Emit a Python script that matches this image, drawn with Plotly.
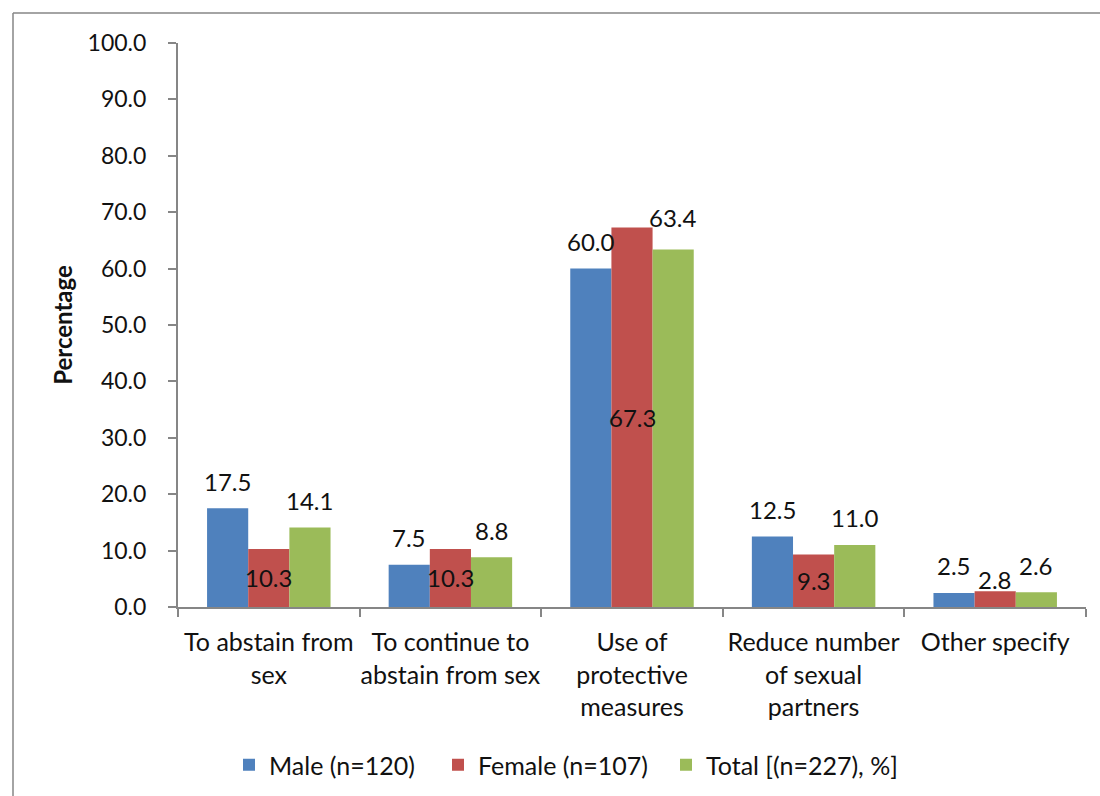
import plotly.graph_objects as go

# ---- data ----
categories = [
    "To abstain from<br>sex",
    "To continue to<br>abstain from sex",
    "Use of<br>protective<br>measures",
    "Reduce number<br>of sexual<br>partners",
    "Other specify",
]
male = [17.5, 7.5, 60.0, 12.5, 2.5]
female = [10.3, 10.3, 67.3, 9.3, 2.8]
total = [14.1, 8.8, 63.4, 11.0, 2.6]
series_names = ["Male (n=120)", "Female (n=107)", "Total [(n=227), %]"]
y_ticks = [0, 10, 20, 30, 40, 50, 60, 70, 80, 90, 100]

# ---- style ----
colors = ["#4F81BD", "#C0504D", "#9BBB59"]
FONT = "Lato"
TXT = "#111111"
AX = "#868686"
W, H = 1100, 796
ML, MR, MT, MB = 178, 14, 43, 189
BARGAP = 0.32
plot_w = W - ML - MR
bar_px = plot_w / len(categories) * (1 - BARGAP) / 3
legend_ids = ["legend", "legend2", "legend3"]
legend_square_px = [243, 452, 680]  # left edge of each legend swatch
# label placement per series: 'out' above bar, 'in' centered inside
placement = [
    ["out"] * 5,
    ["in", "in", "in", "in", "out"],
    ["out"] * 5,
]
out_shift = [
    [27, 27, 27, 27, 27],
    [27, 27, 27, 27, 12],
    [27, 27, 32, 27, 27],
]

fig = go.Figure()
series = [male, female, total]
for name, vals, col, lid in zip(series_names, series, colors, legend_ids):
    fig.add_trace(go.Bar(x=categories, y=vals, name=name, marker_color=col,
                         marker_line_width=0, hoverinfo="x+y+name", legend=lid))

annotations = []
for si, vals in enumerate(series):
    xs = (si - 1) * bar_px
    for ci, v in enumerate(vals):
        if placement[si][ci] == "in":
            yy, ysh = v / 2, 0
        else:
            yy, ysh = v, out_shift[si][ci]
        annotations.append(dict(
            x=categories[ci], y=yy, xref="x", yref="y", text=f"{v:.1f}",
            showarrow=False, xshift=xs, yshift=ysh, xanchor="center", yanchor="middle",
            font=dict(family=FONT, size=24, color=TXT)))

pw = plot_w
ph = H - MT - MB
x_left = (13 - ML) / pw
x_right = (W - ML) / pw
y_top = (H - MB - 13) / ph
y_bot = -(MB) / ph

legends = {}
for lid, sq in zip(legend_ids, legend_square_px):
    legends[lid] = dict(orientation="h", x=(sq - 14) / W, xref="container", xanchor="left",
                        y=(H - 765) / H, yref="container", yanchor="middle",
                        font=dict(family=FONT, size=25, color=TXT), itemwidth=30,
                        bgcolor="rgba(0,0,0,0)")

fig.update_layout(
    width=W, height=H, autosize=False,
    margin=dict(l=ML, r=MR, t=MT, b=MB, pad=0, autoexpand=False),
    paper_bgcolor="white", plot_bgcolor="white",
    barmode="group", bargap=BARGAP, bargroupgap=0,
    font=dict(family=FONT, size=24, color=TXT),
    showlegend=True,
    annotations=annotations,
    shapes=[
        dict(type="line", xref="paper", yref="paper", x0=x_left, x1=x_right, y0=y_top, y1=y_top,
             line=dict(color=AX, width=1.5)),
        dict(type="line", xref="paper", yref="paper", x0=x_left, x1=x_left, y0=y_top, y1=y_bot,
             line=dict(color=AX, width=1.5)),
    ],
    **legends,
)
fig.update_xaxes(type="category", showline=True, linecolor=AX, linewidth=2,
                 ticks="outside", tickson="boundaries", ticklen=8, tickwidth=2, tickcolor=AX,
                 showgrid=False, zeroline=False, automargin=False, tickangle=0,
                 tickfont=dict(family=FONT, size=25, color=TXT), ticklabelstandoff=12)
fig.update_yaxes(range=[0, 100], tickvals=y_ticks, tickformat=".1f", showline=True,
                 linecolor=AX, linewidth=2, ticks="outside", ticklen=8, tickwidth=2,
                 tickcolor=AX, showgrid=False, zeroline=False, automargin=False,
                 tickfont=dict(family=FONT, size=23, color=TXT), ticklabelstandoff=17,
                 title=dict(text="<b>Percentage</b>", font=dict(family=FONT, size=24, color=TXT),
                            standoff=8))

fig.write_html("out.html")
